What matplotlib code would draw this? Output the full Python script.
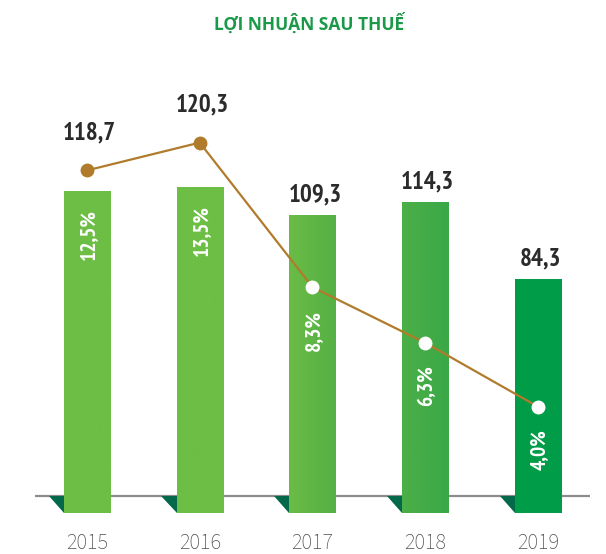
import matplotlib.pyplot as plt
import matplotlib.colors as mcolors
import numpy as np
from matplotlib.patches import Polygon

years = ['2015', '2016', '2017', '2018', '2019']
profit = [118.7, 120.3, 109.3, 114.3, 84.3]
margin = [12.5, 13.5, 8.3, 6.3, 4.0]
profit_labels = ['118,7', '120,3', '109,3', '114,3', '84,3']
margin_labels = ['12,5%', '13,5%', '8,3%', '6,3%', '4,0%']

# colores de cada barra (izquierda -> derecha del degradado)
bar_left_col = ['#6dbe45', '#6dbe45', '#6abc45', '#4caf47', '#009c48']
bar_right_col = ['#6dbe45', '#6dbe45', '#55b046', '#3aa847', '#009c48']
dot_col = ['#b07c2b', '#b07c2b', 'white', 'white', 'white']

narrow = ['PT Sans Narrow', 'DejaVu Sans']
light = ['Source Sans 3', 'DejaVu Sans']

fig = plt.figure(figsize=(6.06, 5.54), dpi=100)
ax = fig.add_axes([35/606, 34/554, 555/606, 460/554])
ax2 = ax.twinx()

x = np.arange(len(years))
w = 0.41
px_y = 460 / (169.65 + 9.34)  # pixeles por unidad

ax.set_xlim(-0.461, 4.461)
ax.set_ylim(-9.34, 169.65)
ax2.set_ylim(-0.072, 16.47)

ax.axhline(0, color='#8c8c8c', lw=1.6, zorder=1)

ext = 17 / px_y
bars = ax.bar(x, [p + ext for p in profit], bottom=-ext, width=w, color='none', zorder=2)
for i, b in enumerate(bars):
    c1 = np.array(mcolors.to_rgb(bar_left_col[i]))
    c2 = np.array(mcolors.to_rgb(bar_right_col[i]))
    t = np.linspace(0, 1, 64)[None, :, None]
    grad = c1 * (1 - t) + c2 * t
    im = ax.imshow(grad, extent=[x[i] - w/2, x[i] + w/2, -ext, profit[i]],
                   aspect='auto', zorder=2, interpolation='bilinear')
    im.set_clip_path(b)
    tri = Polygon([[x[i] - w/2 - 0.135, 0], [x[i] - w/2, 0], [x[i] - w/2, -ext]],
                  closed=True, color='#03694a', zorder=2, lw=0)
    ax.add_patch(tri)

ax2.plot(x, margin, color='#b07c2b', lw=1.6, zorder=3)
for i in range(len(x)):
    ax2.plot(x[i], margin[i], 'o', ms=10, mfc=dot_col[i], mec='none', zorder=4)

ax.set_zorder(1)
ax2.set_zorder(2)
ax2.patch.set_visible(False)

fig.canvas.draw()
for i in range(len(x)):
    bar_top = ax.transData.transform((x[i], profit[i]))[1]
    pt = ax2.transData.transform((x[i], margin[i]))[1]
    if pt > bar_top:
        y_lab = pt + 26
        y_in = bar_top - 44
    else:
        y_lab = bar_top + 9
        y_in = pt - 43
    xd = ax.transData.transform((x[i], 0))[0]
    fig.text(xd / 606 + 0.004, y_lab / 554, profit_labels[i], ha='center', va='bottom',
             fontsize=18, fontweight='bold', color='#2b2b2b', family=narrow)
    fig.text(xd / 606 + 0.002, y_in / 554, margin_labels[i], ha='center', va='center',
             rotation=90, fontsize=15.5, fontweight='bold', color='white', family=narrow)

ax.set_xticks(x)
ax.set_xticklabels(years, fontsize=16, color='#4d4d4d', family=light)
ax.tick_params(axis='x', length=0, pad=9)
ax.set_yticks([])
ax2.set_yticks([])
for a in (ax, ax2):
    for s in a.spines.values():
        s.set_visible(False)

fig.text(0.51, 0.958, 'LỢI NHUẬN SAU THUẾ', ha='center', va='center',
         fontsize=12.5, fontweight='bold', color='#1a9a48', family=['Open Sans', 'DejaVu Sans'])

fig.savefig('out.png', dpi=100)
